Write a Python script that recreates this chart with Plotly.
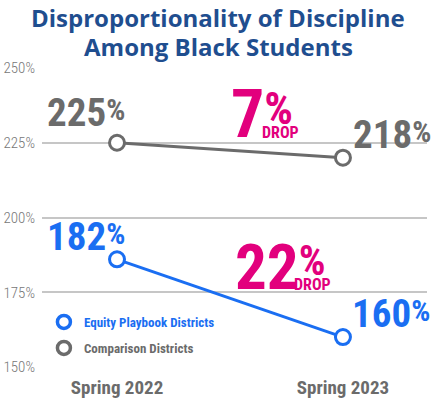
import plotly.graph_objects as go

# ---- data ----
periods = ["Spring 2022", "Spring 2023"]
equity_vals = [186, 160]          # plotted positions
comparison_vals = [225, 220]
equity_labels = ["182", "160"]    # printed labels
comparison_labels = ["225", "218"]
drop_labels = ["7", "22"]         # comparison drop %, equity drop %
y_ticks = [150, 175, 200, 225, 250]
y_ticktext = [f"{v}%" for v in y_ticks]
series_names = ["Equity Playbook Districts", "Comparison Districts"]
title_lines = ["Disproportionality of Discipline", "Among Black Students"]

BLUE = "#1a6ef2"
GREY = "#6b6b6b"
MAGENTA = "#e2007d"
TITLE = "#1f4e8f"
COND = "Roboto Condensed, Open Sans Condensed, sans-serif"

# pixel helpers for annotation placement (plot area: x 42..427, y 68..367)
def xd(px):
    return (px - 117) / 226.0

def yd(py):
    return 150 + (367 - py) / 2.99

def xp(px):
    return (px - 42) / 385.0

def yp(py):
    return (367 - py) / 299.0

fig = go.Figure()

for vals, color in [(comparison_vals, GREY), (equity_vals, BLUE)]:
    fig.add_trace(go.Scatter(
        x=periods, y=vals, mode="lines+markers", showlegend=False,
        line=dict(color=color, width=3),
        marker=dict(symbol="circle", size=15, color="white",
                    line=dict(color=color, width=3)),
        hoverinfo="skip", cliponaxis=False,
    ))

# legend-only entries
for name, color, lg in [(series_names[0], BLUE, "legend"), (series_names[1], GREY, "legend2")]:
    fig.add_trace(go.Scatter(
        x=[None], y=[None], mode="markers", name=name, legend=lg,
        marker=dict(symbol="circle", size=13, color="white",
                    line=dict(color=color, width=3.5)),
    ))

def pct(num, size, shift):
    return f"{num}<span style='font-size:{size}px;baseline-shift:{shift}px'>%</span>"

ann = []
lab_fs = 39
ann.append(dict(x=xd(86), y=yd(113), text=pct(comparison_labels[0], 30, 6),
                font=dict(family=COND, size=lab_fs, color=GREY)))
ann.append(dict(x=xd(392), y=yd(134.5), text=pct(comparison_labels[1], 30, 6),
                font=dict(family=COND, size=lab_fs, color=GREY)))
ann.append(dict(x=xd(86), y=yd(236.5), text=pct(equity_labels[0], 30, 6),
                font=dict(family=COND, size=lab_fs, color=BLUE)))
ann.append(dict(x=xd(391), y=yd(314), text=pct(equity_labels[1], 30, 6),
                font=dict(family=COND, size=lab_fs, color=BLUE)))
# drop labels
ann.append(dict(x=xd(262), y=yd(114), text=pct(drop_labels[0], 45, 13),
                font=dict(family=COND, size=66, color=MAGENTA)))
ann.append(dict(x=xd(280.5), y=yd(132), text="DROP",
                font=dict(family=COND, size=16, color=MAGENTA)))
ann.append(dict(x=xd(281), y=yd(267.5), text=pct(drop_labels[1], 42, 14),
                font=dict(family=COND, size=63, color=MAGENTA)))
ann.append(dict(x=xd(312.5), y=yd(284), text="DROP",
                font=dict(family=COND, size=16, color=MAGENTA)))
for a in ann:
    a.update(xref="x", yref="y", showarrow=False, xanchor="center", yanchor="middle")
    a["font"]["weight"] = "bold"

# title (two lines)
for line, cy in zip(title_lines, [18, 46]):
    ann.append(dict(x=xp(218), y=yp(cy), xref="paper", yref="paper",
                    xanchor="center", yanchor="middle", showarrow=False, text=line,
                    font=dict(family="Open Sans, sans-serif", size=24, color=TITLE,
                              weight="bold")))

fig.update_layout(
    width=431, height=399,
    margin=dict(l=42, r=4, t=68, b=32),
    paper_bgcolor="white", plot_bgcolor="white",
    xaxis=dict(range=[-0.332, 1.372], showgrid=False, zeroline=False, showline=False,
               ticks="", automargin=False,
               tickfont=dict(family=COND, size=19, color=GREY, weight="bold"),
               ticklabelstandoff=7),
    yaxis=dict(range=[150, 250], tickvals=y_ticks, ticktext=y_ticktext,
               showgrid=True, gridcolor="#c6c6c6", gridwidth=1.5, zeroline=False,
               showline=False, ticks="", ticklabelstandoff=6, automargin=False,
               tickfont=dict(family=COND, size=15, color="#777777", weight=300)),
    annotations=ann,
    legend=dict(x=0.005, y=yp(322), xanchor="left", yanchor="middle",
                font=dict(family=COND, size=13, color=BLUE, weight="bold"),
                bgcolor="rgba(0,0,0,0)"),
    legend2=dict(x=0.005, y=yp(348), xanchor="left", yanchor="middle",
                 font=dict(family=COND, size=13, color=GREY, weight="bold"),
                 bgcolor="rgba(0,0,0,0)"),
    showlegend=True,
)

fig.write_html("out.html", config={"displayModeBar": False},
               post_script="document.body.style.margin='0';")
